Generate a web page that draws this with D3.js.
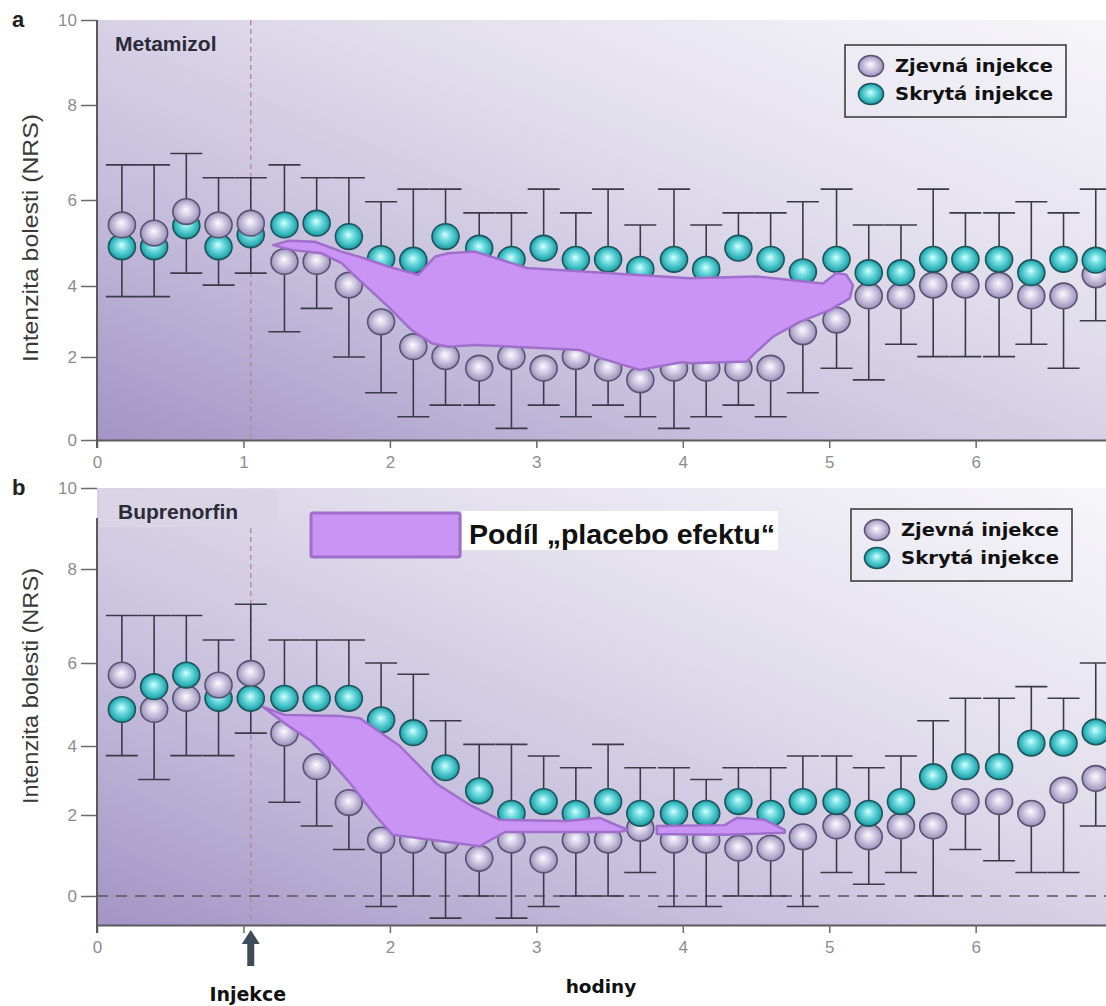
<!DOCTYPE html>
<html><head><meta charset="utf-8">
<script src="https://cdn.jsdelivr.net/npm/d3@7"></script>
<style>body{margin:0;background:#fff;} svg{display:block;}</style>
</head><body>
<svg id="c" width="1106" height="1006"></svg>
<script>
// ---------------- data ----------------
const hours = [0.17,0.39,0.61,0.83,1.05,1.28,1.50,1.72,1.94,2.16,2.38,2.61,2.83,3.05,3.27,3.49,3.71,3.94,4.16,4.38,4.60,4.82,5.05,5.27,5.49,5.71,5.93,6.16,6.38,6.60,6.82];

// Panel a: Metamizol
const metOpen   = [5.42,5.23,5.73,5.42,5.46,4.57,4.57,4.02,2.99,2.29,2.01,1.73,2.01,1.73,2.01,1.73,1.45,1.73,1.73,1.73,1.73,2.71,3.04,3.72,3.72,4.02,4.02,4.02,3.72,3.72,4.26];
const metHidden = [4.91,4.91,5.40,4.91,5.19,5.42,5.46,5.15,4.64,4.60,5.15,4.88,4.62,4.88,4.62,4.62,4.39,4.62,4.39,4.88,4.62,4.33,4.62,4.31,4.31,4.62,4.62,4.62,4.31,4.62,4.60];
const metErrHigh = [6.74,6.74,6.98,6.47,6.47,6.74,6.47,6.47,5.96,6.23,6.23,5.70,5.70,6.23,5.70,6.23,5.42,6.23,5.42,5.70,5.70,5.96,6.23,5.42,5.42,6.23,5.70,5.70,5.96,5.70,6.23];
const metErrLow  = [3.70,3.70,4.30,4.02,4.30,2.71,3.37,2.00,1.14,0.56,0.84,0.84,0.28,0.84,0.56,0.84,0.56,0.28,0.56,0.84,0.56,1.14,1.73,1.45,2.36,2.01,2.01,2.01,2.36,1.73,3.02];

// Panel b: Buprenorfin
const bupOpen   = [5.71,4.88,5.15,5.47,5.75,4.31,3.40,2.36,1.38,1.38,1.38,0.93,1.38,0.89,1.38,1.38,1.67,1.38,1.38,1.18,1.18,1.46,1.73,1.46,1.73,1.73,2.39,2.39,2.05,2.72,3.06];
const bupHidden = [4.88,5.43,5.71,5.15,5.15,5.15,5.15,5.15,4.63,4.32,3.37,2.70,2.05,2.39,2.05,2.39,2.05,2.05,2.05,2.39,2.05,2.39,2.39,2.05,2.39,3.11,3.40,3.40,4.07,4.07,4.34];
const bupErrHigh = [7.01,7.01,7.01,6.49,7.25,6.49,6.49,6.49,6.00,5.73,4.61,4.04,4.04,3.71,3.37,4.04,3.37,3.37,3.03,3.37,3.37,3.71,3.71,3.37,3.71,4.61,5.15,5.15,5.43,5.15,6.00];
const bupErrLow  = [3.72,3.03,3.72,3.72,4.31,2.37,1.73,1.15,-0.26,0.00,-0.55,0.00,-0.55,-0.26,0.00,0.00,0.58,-0.26,-0.26,0.00,0.00,-0.26,0.58,0.29,0.58,0.00,1.15,0.87,0.58,0.58,1.73];

// "placebo effect" areas [hour, NRS]
const placeboMet = [[1.203,4.95],[1.306,5.05],[1.488,5.03],[1.670,4.80],[1.829,4.64],[1.988,4.45],[2.193,4.26],[2.307,4.68],[2.398,4.76],[2.580,4.80],[2.935,4.42],[4.048,4.18],[4.503,4.22],[4.958,4.06],[5.049,4.30],[5.117,4.26],[5.162,4.02],[5.140,3.65],[5.003,3.32],[4.799,2.99],[4.616,2.57],[4.491,2.10],[4.435,1.89],[4.048,1.85],[4.000,1.88],[3.706,1.69],[3.433,1.98],[3.297,2.20],[2.580,2.34],[2.398,2.29],[2.285,2.39],[2.148,2.76],[1.988,3.42],[1.829,4.02],[1.670,4.53],[1.534,4.76],[1.329,4.84]];
const placeboBup1 = [[1.133,4.94],[1.283,4.75],[1.672,4.72],[1.795,4.67],[2.068,4.00],[2.321,2.90],[2.546,2.29],[2.751,1.88],[3.208,1.85],[3.433,1.93],[3.625,1.63],[3.570,1.58],[2.785,1.58],[2.614,1.23],[2.020,1.51],[1.898,2.00],[1.727,2.93],[1.570,3.68],[1.454,4.14],[1.317,4.46]];
const placeboBup2 = [[3.823,1.73],[4.287,1.75],[4.369,1.93],[4.560,1.88],[4.696,1.63],[4.696,1.56],[4.287,1.51],[3.823,1.53]];

const yTickValues = [0,2,4,6,8,10];
const xTickValuesA = [0,1,2,3,4,5,6];
const xTickValuesB = [0,1,2,3,4,5,6];
const injectionHour = 1.05;
const seriesNames = ["Zjevná injekce","Skrytá injekce"];
const panelTitles = ["Metamizol","Buprenorfin"];
const panelLetters = ["a","b"];
const yLabel = "Intenzita  bolesti (NRS)";
const xLabel = "hodiny";
const injectionLabel = "Injekce";
const placeboLabel = "Podíl „placebo efektu“";

// ---------------- drawing ----------------
const svg = d3.select("#c");
const defs = svg.append("defs");

const bg = defs.append("linearGradient").attr("id","bg").attr("x1",0).attr("y1",1).attr("x2",1).attr("y2",0);
[[0,"#a394c5"],[0.3,"#c5bddc"],[0.65,"#e3e0ed"],[1,"#f7f6fa"]].forEach(s=>bg.append("stop").attr("offset",s[0]).attr("stop-color",s[1]));

function ball(id, stops){
  const g = defs.append("radialGradient").attr("id",id).attr("cx","50%").attr("cy","50%").attr("r","55%").attr("fx","48%").attr("fy","42%");
  stops.forEach(s=>g.append("stop").attr("offset",s[0]).attr("stop-color",s[1]));
}
ball("teal", [[0,"#d8ffff"],[0.3,"#7fe3e6"],[0.75,"#2eb2b8"],[1,"#1a7c84"]]);
ball("lav",  [[0,"#fbfaff"],[0.35,"#d9d4e8"],[0.8,"#a79fc4"],[1,"#857ca6"]]);

const x = d3.scaleLinear().domain([0, 6.89]).range([97, 1106]);

const panels = [
  {top:20, bottom:440, yDomain:[0,2,4,6,8,10], yRange:[440,357,286,200,105,20], axisTop:20,
   open:metOpen, hidden:metHidden, hi:metErrHigh, lo:metErrLow, areas:[placeboMet],
   xticks:xTickValuesA, hideOne:false, redTop:20, legendY:45, legendX:845, yLabelC:238, yLabelLen:248},
  {top:488, bottom:925, yDomain:[-0.72,0,2,4,6,8,10], yRange:[925,896,815,746,663,569,488], axisTop:518,
   open:bupOpen, hidden:bupHidden, hi:bupErrHigh, lo:bupErrLow, areas:[placeboBup1, placeboBup2],
   xticks:xTickValuesB, hideOne:true, redTop:528, legendY:509, legendX:851, yLabelC:686, yLabelLen:236}
];

panels.forEach((p, pi) => {
  const y = d3.scaleLinear().domain(p.yDomain).range(p.yRange);
  const g = svg.append("g");
  g.append("rect").attr("x",x(0)).attr("y",p.top).attr("width",1106-x(0)).attr("height",p.bottom-p.top).attr("fill","url(#bg)");

  if (pi === 1) {
    g.append("rect").attr("x",99).attr("y",490).attr("width",178).attr("height",37).attr("fill","#d9d5e5");
    g.append("line").attr("x1",x(0)).attr("x2",1106).attr("y1",y(0)).attr("y2",y(0))
      .attr("stroke","#555").attr("stroke-width",1.5).attr("stroke-dasharray","11,8");
  }
  g.append("line").attr("x1",x(injectionHour)).attr("x2",x(injectionHour)).attr("y1",p.redTop).attr("y2",p.bottom)
    .attr("stroke","#c27f8f").attr("stroke-width",1.3).attr("stroke-dasharray","5,4");

  const eb = g.append("g").attr("stroke","#3b3a48").attr("stroke-width",1.6);
  hours.forEach((h,i)=>{
    const up = Math.max(p.open[i], p.hidden[i]);
    const dn = Math.min(p.open[i], p.hidden[i]);
    const cx = x(h);
    eb.append("line").attr("x1",cx).attr("x2",cx).attr("y1",y(up)).attr("y2",y(p.hi[i]));
    eb.append("line").attr("x1",cx-16).attr("x2",cx+16).attr("y1",y(p.hi[i])).attr("y2",y(p.hi[i]));
    eb.append("line").attr("x1",cx).attr("x2",cx).attr("y1",y(dn)).attr("y2",y(p.lo[i]));
    eb.append("line").attr("x1",cx-16).attr("x2",cx+16).attr("y1",y(p.lo[i])).attr("y2",y(p.lo[i]));
  });

  const pts = g.append("g");
  hours.forEach((h,i)=>{
    const items = [
      {v:p.open[i], fill:"url(#lav)", stroke:"#5a5473"},
      {v:p.hidden[i], fill:"url(#teal)", stroke:"#1d555c"}
    ].sort((a,b)=>a.v-b.v);
    items.forEach(it=>{
      pts.append("ellipse").attr("cx",x(h)).attr("cy",y(it.v)).attr("rx",13.5).attr("ry",12.8)
        .attr("fill",it.fill).attr("stroke",it.stroke).attr("stroke-width",1.6);
    });
  });

  const area = d3.line().x(d=>x(d[0])).y(d=>y(d[1])).curve(d3.curveLinearClosed);
  p.areas.forEach(a=>{
    g.append("path").attr("d",area(a)).attr("fill","#c994f3").attr("stroke","#9f6fcb")
      .attr("stroke-width",2.5).attr("stroke-linejoin","round");
  });

  const xa = g.append("g").attr("transform",`translate(0,${p.bottom})`)
    .call(d3.axisBottom(x).tickValues(p.xticks).tickSize(8).tickSizeOuter(0).tickPadding(8)
      .tickFormat(d => (p.hideOne && d===1) ? "" : d));
  xa.select(".domain").attr("stroke","#5a5a5a").attr("stroke-width",2);
  xa.selectAll(".tick line").attr("stroke","#6a6a6a").attr("stroke-width",1.5);
  xa.selectAll(".tick text").attr("fill","#8d8d8d").attr("font-size",17).attr("font-family","Liberation Sans, Arial, sans-serif");

  const ya = g.append("g").attr("transform",`translate(${x(0)},0)`)
    .call(d3.axisLeft(y).tickValues(yTickValues).tickSize(16).tickSizeOuter(0).tickPadding(4));
  ya.select(".domain").remove();
  ya.selectAll(".tick line").attr("stroke","#6a6a6a").attr("stroke-width",1.5);
  ya.selectAll(".tick text").attr("fill","#8d8d8d").attr("font-size",17).attr("font-family","Liberation Sans, Arial, sans-serif");
  g.append("line").attr("x1",x(0)).attr("x2",x(0)).attr("y1",p.axisTop).attr("y2",p.bottom+8)
    .attr("stroke","#5a5a5a").attr("stroke-width",2);

  g.append("text").attr("x",12).attr("y",p.top+7).text(panelLetters[pi])
    .attr("font-family","Liberation Sans, Arial, sans-serif").attr("font-weight","bold").attr("font-size",22).attr("fill","#222");
  g.append("text").attr("x",pi===0?115:118).attr("y",pi===0?51:519).text(panelTitles[pi])
    .attr("font-family","Liberation Sans, Arial, sans-serif").attr("font-weight","bold").attr("font-size",21).attr("fill","#2b2b38");
  g.append("text").attr("transform",`translate(38,${p.yLabelC}) rotate(-90)`).attr("text-anchor","middle")
    .attr("textLength",p.yLabelLen).attr("lengthAdjust","spacingAndGlyphs")
    .text(yLabel).attr("font-family","Liberation Sans, Arial, sans-serif").attr("font-size",22).attr("fill","#3a3a3a");

  const lg = g.append("g");
  lg.append("rect").attr("x",p.legendX).attr("y",p.legendY).attr("width",221).attr("height",72)
    .attr("fill","none").attr("stroke","#333").attr("stroke-width",1.5);
  [["url(#lav)","#5a5473"],["url(#teal)","#1d555c"]].forEach((c,k)=>{
    const cy = p.legendY + 21 + k*28;
    lg.append("ellipse").attr("cx",p.legendX+26).attr("cy",cy).attr("rx",12.5).attr("ry",10.5)
      .attr("fill",c[0]).attr("stroke",c[1]).attr("stroke-width",1.6);
    lg.append("text").attr("x",p.legendX+50).attr("y",cy+6).text(seriesNames[k])
      .attr("font-family","DejaVu Sans, Verdana, sans-serif").attr("font-weight","bold").attr("font-size",17.5)
      .attr("textLength",158).attr("lengthAdjust","spacingAndGlyphs").attr("fill","#111");
  });
});

svg.append("rect").attr("x",311).attr("y",513).attr("width",149).attr("height",44)
  .attr("fill","#c994f3").attr("stroke","#9f6fcb").attr("stroke-width",3).attr("rx",2);
svg.append("rect").attr("x",462).attr("y",511).attr("width",316).attr("height",39).attr("fill","#fff");
svg.append("text").attr("x",469).attr("y",544).text(placeboLabel)
  .attr("font-family","Liberation Sans, Arial, sans-serif").attr("font-weight","bold").attr("font-size",28)
  .attr("textLength",306).attr("lengthAdjust","spacingAndGlyphs").attr("fill","#111");

const ax = x(injectionHour);
svg.append("path").attr("d",`M${ax},930 L${ax+9},944 L${ax+3.5},944 L${ax+3.5},966 L${ax-3.5},966 L${ax-3.5},944 L${ax-9},944 Z`)
  .attr("fill","#3f4b58");
svg.append("text").attr("x",ax-3).attr("y",1001).attr("text-anchor","middle").text(injectionLabel)
  .attr("font-family","DejaVu Sans, Verdana, sans-serif").attr("font-weight","bold").attr("font-size",19).attr("fill","#111");
svg.append("text").attr("x",601).attr("y",993).attr("text-anchor","middle").text(xLabel)
  .attr("font-family","DejaVu Sans, Verdana, sans-serif").attr("font-weight","bold").attr("font-size",18.5).attr("fill","#111");
</script>
</body></html>
